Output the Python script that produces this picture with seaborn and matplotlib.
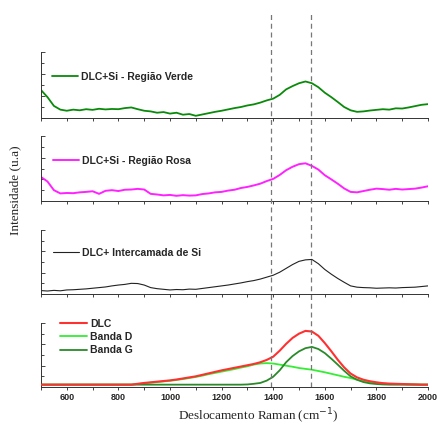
import matplotlib
matplotlib.use("Agg")
import matplotlib.pyplot as plt
from matplotlib.ticker import MultipleLocator, NullFormatter
import seaborn as sns

# -------------------------------
# Raman spectra (cm-1 grid, a.u.)
# -------------------------------
raman_shift = list(range(500, 2001, 25))

verde = [1.27, 0.95, 0.55, 0.38, 0.33, 0.38, 0.35, 0.40, 0.37, 0.42,
         0.39, 0.41, 0.40, 0.45, 0.48, 0.40, 0.33, 0.30, 0.24, 0.27,
         0.20, 0.24, 0.15, 0.18, 0.10, 0.16, 0.22, 0.28, 0.33, 0.39,
         0.45, 0.50, 0.57, 0.62, 0.70, 0.80, 0.88, 1.05, 1.30, 1.45,
         1.58, 1.66, 1.58, 1.40, 1.15, 0.95, 0.73, 0.50, 0.35, 0.28,
         0.30, 0.34, 0.37, 0.40, 0.38, 0.44, 0.43, 0.48, 0.54, 0.60,
         0.63]

rosa = [1.11, 0.90, 0.50, 0.35, 0.37, 0.36, 0.40, 0.42, 0.45, 0.33,
        0.47, 0.50, 0.46, 0.52, 0.53, 0.56, 0.53, 0.33, 0.30, 0.26,
        0.28, 0.24, 0.27, 0.25, 0.26, 0.32, 0.35, 0.40, 0.42, 0.48,
        0.52, 0.60, 0.65, 0.72, 0.80, 0.92, 1.02, 1.20, 1.42, 1.58,
        1.70, 1.74, 1.62, 1.45, 1.19, 1.00, 0.80, 0.58, 0.42, 0.40,
        0.46, 0.52, 0.57, 0.55, 0.52, 0.56, 0.53, 0.55, 0.57, 0.62,
        0.68]

intercamada = [0.16, 0.14, 0.17, 0.15, 0.19, 0.20, 0.22, 0.24, 0.27, 0.30,
               0.33, 0.38, 0.42, 0.45, 0.50, 0.49, 0.42, 0.30, 0.25, 0.22,
               0.19, 0.21, 0.20, 0.23, 0.22, 0.26, 0.30, 0.34, 0.38, 0.42,
               0.47, 0.52, 0.58, 0.63, 0.70, 0.79, 0.88, 1.02, 1.20, 1.38,
               1.53, 1.60, 1.62, 1.42, 1.15, 0.93, 0.73, 0.55, 0.38, 0.32,
               0.30, 0.29, 0.27, 0.28, 0.29, 0.28, 0.30, 0.31, 0.32, 0.35,
               0.38]

dlc = [0.11, 0.11, 0.11, 0.11, 0.11, 0.11, 0.11, 0.11, 0.11, 0.11,
       0.11, 0.11, 0.11, 0.11, 0.11, 0.15, 0.19, 0.22, 0.25, 0.28,
       0.31, 0.35, 0.40, 0.45, 0.50, 0.57, 0.64, 0.71, 0.78, 0.84,
       0.90, 0.96, 1.02, 1.08, 1.16, 1.27, 1.42, 1.70, 2.02, 2.30,
       2.50, 2.63, 2.60, 2.40, 2.06, 1.68, 1.28, 0.92, 0.63, 0.45,
       0.34, 0.27, 0.22, 0.18, 0.16, 0.15, 0.14, 0.13, 0.12, 0.11,
       0.11]

banda_d = [0.11, 0.11, 0.11, 0.11, 0.11, 0.11, 0.11, 0.11, 0.11, 0.11,
           0.11, 0.11, 0.11, 0.11, 0.11, 0.14, 0.17, 0.20, 0.23, 0.26,
           0.29, 0.33, 0.37, 0.42, 0.47, 0.53, 0.60, 0.66, 0.72, 0.78,
           0.84, 0.91, 0.97, 1.05, 1.10, 1.12, 1.10, 1.05, 1.00, 0.95,
           0.89, 0.85, 0.81, 0.75, 0.69, 0.62, 0.55, 0.48, 0.42, 0.34,
           0.27, 0.22, 0.19, 0.16, 0.14, 0.13, 0.13, 0.12, 0.12, 0.11,
           0.11]

banda_g = [0.11, 0.11, 0.11, 0.11, 0.11, 0.11, 0.11, 0.11, 0.11, 0.11,
           0.11, 0.11, 0.11, 0.11, 0.11, 0.11, 0.11, 0.11, 0.11, 0.11,
           0.11, 0.11, 0.11, 0.11, 0.11, 0.11, 0.11, 0.11, 0.11, 0.11,
           0.11, 0.11, 0.12, 0.15, 0.19, 0.30, 0.48, 0.78, 1.16, 1.45,
           1.67, 1.82, 1.88, 1.78, 1.59, 1.33, 1.05, 0.76, 0.50, 0.34,
           0.23, 0.17, 0.14, 0.12, 0.11, 0.11, 0.11, 0.11, 0.11, 0.11,
           0.11]

# reference positions (D and G band) marked with dashed lines
ref_lines = [1390, 1545]

# -------------------------------
# Style
# -------------------------------
sns.set_style("ticks")
plt.rcParams['font.family'] = ['Liberation Sans', 'DejaVu Sans']

fig = plt.figure(figsize=(4.42, 4.24), dpi=100)
left, width = 41 / 442, 387 / 442
boxes = [(118, 66), (201, 65), (294, 64), (387, 64)]  # bottom px, height px


def panel(bottom_px, height_px):
    ax = fig.add_axes([left, 1 - bottom_px / 424, width, height_px / 424])
    ax.set_xlim(500, 2000)
    ax.set_ylim(0, 3)
    sns.despine(ax=ax)
    ax.xaxis.set_major_locator(MultipleLocator(200))
    ax.xaxis.set_minor_locator(MultipleLocator(100))
    ax.yaxis.set_major_locator(MultipleLocator(1))
    ax.yaxis.set_minor_locator(MultipleLocator(0.5))
    ax.tick_params(axis='x', which='both', direction='out', length=2.5, width=0.6,
                   labelsize=6.5, pad=2)
    ax.tick_params(axis='y', which='major', direction='in', length=3, width=0.6)
    ax.tick_params(axis='y', which='minor', direction='in', length=2, width=0.6)
    ax.yaxis.set_major_formatter(NullFormatter())
    for sp in ax.spines.values():
        sp.set_linewidth(0.7)
        sp.set_color('#333333')
    ax.set_xlabel('')
    ax.set_ylabel('')
    return ax


axes = [panel(b, h) for b, h in boxes]

leg_kw = dict(frameon=False, borderpad=0, borderaxespad=0, handletextpad=0.3,
              prop={'weight': 'bold', 'size': 7.5})

sns.lineplot(x=raman_shift, y=verde, ax=axes[0], color='#0a8a0a', lw=1.3,
             label='DLC+Si - Região Verde')
sns.lineplot(x=raman_shift, y=rosa, ax=axes[1], color='#ff22ff', lw=1.4,
             label='DLC+Si - Região Rosa')
sns.lineplot(x=raman_shift, y=intercamada, ax=axes[2], color='#222222', lw=0.8,
             label='DLC+ Intercamada de Si')
sns.lineplot(x=raman_shift, y=dlc, ax=axes[3], color='#ff3030', lw=1.5, label='DLC')
sns.lineplot(x=raman_shift, y=banda_d, ax=axes[3], color='#33ee33', lw=1.3, label='Banda D')
sns.lineplot(x=raman_shift, y=banda_g, ax=axes[3], color='#2a8a2a', lw=1.3, label='Banda G')
# fitted sum (DLC) sits on top of the components
axes[3].lines[0].set_zorder(5)

axes[0].legend(loc='center left', bbox_to_anchor=(0.028, 0.62), handlelength=2.5, **leg_kw)
axes[1].legend(loc='center left', bbox_to_anchor=(0.030, 0.62), handlelength=2.5, **leg_kw)
axes[2].legend(loc='center left', bbox_to_anchor=(0.030, 0.64), handlelength=2.5, **leg_kw)
axes[3].legend(loc='center left', bbox_to_anchor=(0.049, 0.78), handlelength=2.6,
               labelspacing=0.3, **leg_kw)

for ax in axes[:3]:
    ax.xaxis.set_major_formatter(NullFormatter())
    ax.set_xlabel('')
for lab in axes[3].get_xticklabels():
    lab.set_fontweight('bold')
axes[3].set_xlabel('')

# dashed guide lines through all panels
over = fig.add_axes([left, 1 - 387 / 424, width, (387 - 12) / 424])
over.set_xlim(500, 2000)
over.axis('off')
over.patch.set_alpha(0)
for xv in ref_lines:
    over.axvline(xv, color='#777777', lw=0.9, ls=(0, (4, 3)))

fig.text(15 / 442, 1 - 190 / 424, 'Intensidade (u.a)', rotation=90, ha='center', va='center',
         family=['Liberation Serif', 'DejaVu Serif'], fontsize=9.5)
fig.text(258 / 442, 1 - 416 / 424, r'Deslocamento Raman (cm$^{-1}$)', ha='center', va='center',
         family=['Liberation Serif', 'DejaVu Serif'], fontsize=9.5)

fig.savefig('out.png', dpi=100)
